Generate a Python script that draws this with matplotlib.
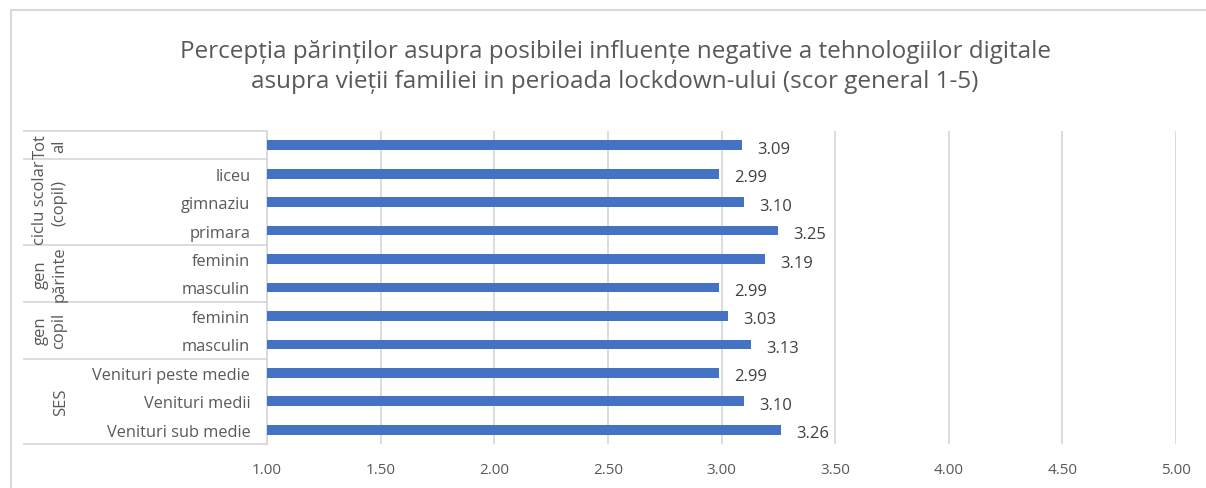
import matplotlib
matplotlib.use("Agg")
import matplotlib.pyplot as plt
from matplotlib.patches import Rectangle

categories = ["", "liceu", "gimnaziu", "primara", "feminin", "masculin",
              "feminin", "masculin", "Venituri peste medie", "Venituri medii",
              "Venituri sub medie"]
values = [3.09, 2.99, 3.10, 3.25, 3.19, 2.99, 3.03, 3.13, 2.99, 3.10, 3.26]
groups = ["Tot\nal", "ciclu scolar\n(copil)", "gen\npărinte", "gen\ncopil", "SES"]
group_sizes = [1, 3, 2, 2, 3]
xticks = [1.0, 1.5, 2.0, 2.5, 3.0, 3.5, 4.0, 4.5, 5.0]
title = ("Percepția părinților asupra posibilei influențe negative a tehnologiilor digitale\n"
         "asupra vieții familiei in perioada lockdown-ului (scor general 1-5)")

plt.rcParams['font.family'] = ['Open Sans', 'DejaVu Sans']
W, H = 1206, 489
fig = plt.figure(figsize=(W / 100, H / 100), dpi=100)
fig.patch.set_facecolor("white")
fig.patches.append(Rectangle((11 / W, -0.1), 1.2, 1 - 11 / H + 0.1, transform=fig.transFigure,
                             fill=False, edgecolor="#D9D9D9", lw=1.5))

x0, x1 = 267, 1176
ytop, ybot = 132, 445
ax = fig.add_axes([x0 / W, 1 - ybot / H, (x1 - x0) / W, (ybot - ytop) / H])
n = len(values)
ypos = list(range(n))
ax.barh(ypos, [v - 1 for v in values], left=1, height=0.34, color="#4472C4", zorder=3)
ax.set_xlim(1, 5)
ax.set_ylim(n - 0.5, -0.5)
ax.set_xticks(xticks)
ax.set_xticklabels([f"{t:.2f}" for t in xticks], color="#595959", fontsize=11)
ax.set_yticks(ypos)
ax.set_yticklabels(categories, color="#595959", fontsize=11.8)
ax.tick_params(axis="y", length=0, pad=12)
ax.tick_params(axis="x", length=0, pad=13)
ax.grid(axis="x", color="#D9D9D9", lw=1.3, zorder=0)
for s in ["top", "right", "bottom"]:
    ax.spines[s].set_visible(False)
ax.spines["left"].set_color("#D9D9D9")
ax.spines["left"].set_linewidth(1.3)

for y, v in zip(ypos, values):
    ax.annotate(f"{v:.2f}", (v, y), xytext=(11, -2.5), textcoords="offset points",
                va="center", ha="left", color="#404040", fontsize=12)

# group separators and labels
tr = ax.get_yaxis_transform()
xl = (24 - x0) / (x1 - x0)
start = -0.5
ax.plot([xl, 0], [start, start], transform=tr, color="#D9D9D9", lw=1.3, clip_on=False)
for g, sz in zip(groups, group_sizes):
    end = start + sz
    ax.plot([xl, 0], [end, end], transform=tr, color="#D9D9D9", lw=1.3, clip_on=False)
    cx = 50 if "\n" in g else 61
    ax.text((cx - x0) / (x1 - x0), (start + end) / 2, g, transform=tr, rotation=90,
            ha="center", va="center", color="#595959", fontsize=12,
            linespacing=1.25, multialignment="center")
    start = end

fig.text(615 / W, 1 - 67 / H, title, ha="center", va="center", fontsize=17.5,
         color="#595959", linespacing=1.38)

fig.savefig("out.png", dpi=100)
